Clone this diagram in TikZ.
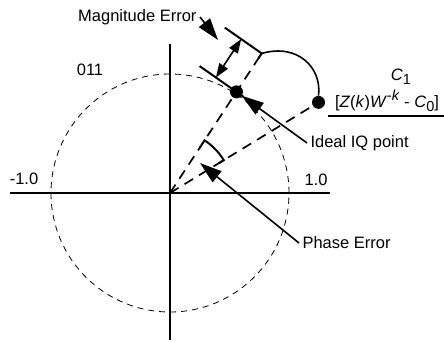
\documentclass[tikz,border=0pt]{standalone}
\usepackage{fontspec}
\setmainfont{Liberation Sans}
\usetikzlibrary{arrows.meta, calc}
\newcommand{\idx}[1]{\raisebox{-0.5ex}{\fontsize{14.5}{15}\selectfont #1}}
\newcommand{\pow}[1]{\raisebox{0.8ex}{\fontsize{14.5}{15}\selectfont #1}}

\begin{document}
\begin{tikzpicture}[x=1pt, y=1pt, font=\fontsize{16.5}{19}\selectfont,
    axis/.style={line width=2.2pt},
    unitcircle/.style={dashed, dash pattern=on 6pt off 5pt, line width=0.8pt},
    guide/.style={dashed, dash pattern=on 10pt off 7pt, line width=1.7pt},
    limit/.style={line width=2pt},
    pointer/.style={-{Triangle[length=22pt, width=14pt]}, line width=1.6pt},
    dotnode/.style={circle, fill, inner sep=0pt, minimum size=13pt}]
  \useasboundingbox (-170,-148) rectangle (274,193);
  % Axes and unit circle
  \draw[axis] (-160,0) -- (160,0);
  \draw[axis] (0,149) -- (0,-147);
  \draw[unitcircle] (0,0) circle[radius=119];
  \coordinate (O) at (0,0);
  \coordinate (ideal) at (56.7:121);
  \coordinate (magtop) at (56.7:167);
  \coordinate (meas) at (31.4:174);
  % Radial guides
  \draw[guide] (O) -- (magtop);
  \draw[guide] (O) -- (meas);
  % Magnitude limits
  \draw[limit] ($(ideal)+(145:45)$) -- ($(ideal)+(-35:9)$);
  \draw[limit] ($(magtop)+(145:45)$) -- (magtop) -- ($(magtop)+(236.7:6)$);
  \draw[{Triangle[length=14pt, width=10pt]}-{Triangle[length=14pt, width=10pt]}, line width=1.6pt]
    ($(ideal)+(145:25)$) -- ($(magtop)+(145:25)$);
  % Phase angle
  \draw[limit] (56.7:54) -- (56.7:63) arc[start angle=56.7, end angle=31.4, radius=63] -- (31.4:57);
  % Points
  \node[dotnode] (idealdot) at (ideal) {};
  \node[dotnode] (measdot) at (meas) {};
  \draw[line width=1.6pt] (magtop) .. controls (128,150) and (152,125) .. (measdot.north);
  % Labels
  \node (octant) at (-80,123) {011};
  \node (lefttick) at (-146,14) {-1.0};
  \node (righttick) at (146,13) {1.0};
  \node (cone) at (231,116) {\textit{C}\idx{1}};
  \node (expr) at (217,92) {[\textit{Z}(\textit{k})\textit{W}\pow{-\textit{k}} - \textit{C}\idx{0}]};
  \draw[line width=1.6pt] (158,77) -- (274,77);
  \node[anchor=east] (magtxt) at (30,176) {Magnitude Error};
  \node[anchor=west] (idealtxt) at (137,50) {Ideal IQ point};
  \node[anchor=west] (phasetxt) at (129,-50) {Phase Error};
  \coordinate (magtip) at (48,153);
  \coordinate (phasetip) at (30,30);
  % Pointers
  \draw[pointer] (magtxt.east) -- (magtip);
  \draw[pointer] (idealtxt.west) -- (idealdot);
  \draw[pointer] (phasetxt.west) -- (phasetip);
\end{tikzpicture}
\end{document}
